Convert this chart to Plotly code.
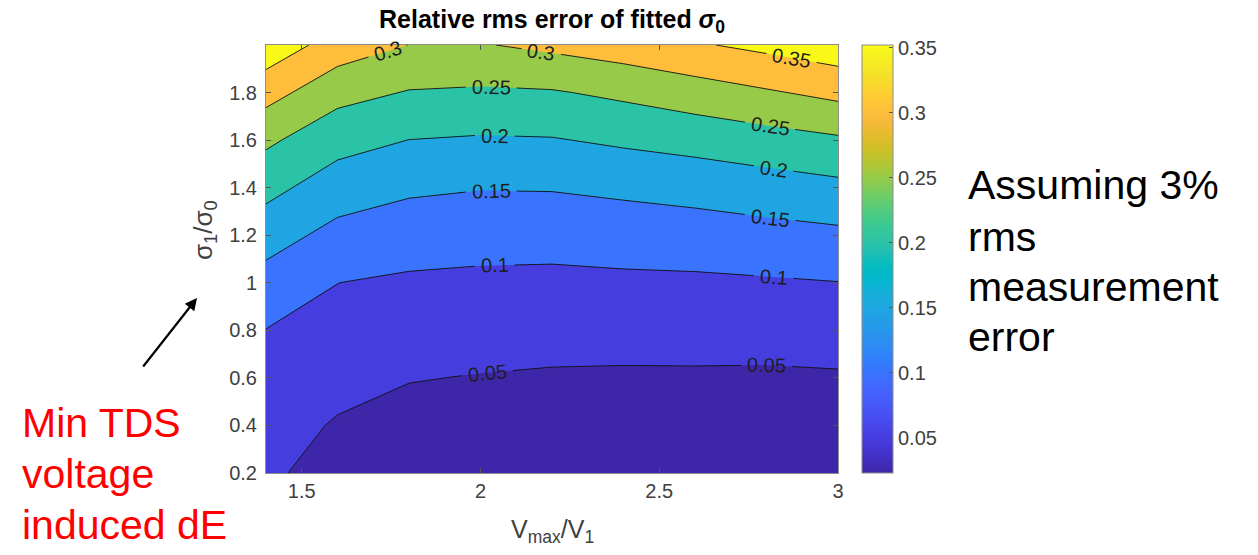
import math
import plotly.graph_objects as go

# ---- data -----------------------------------------------------------------
# Vmax/V1 sample points (columns) and sigma1/sigma0 sample points (rows)
v_ratio = [1.4, 1.6, 1.8, 2.0, 2.2, 2.4, 2.6, 2.8, 3.0]
sigma_ratio = [0.2, 0.4, 0.6, 0.8, 1.0, 1.2, 1.4, 1.6, 1.8, 2.0]

# relative rms error of the fitted sigma0, one list per sigma1/sigma0 value
err_s0_2 = [0.054, 0.041, 0.031, 0.027, 0.025, 0.024, 0.023, 0.023, 0.024]
err_s0_4 = [0.069, 0.046, 0.034, 0.034, 0.032, 0.031, 0.030, 0.030, 0.031]
err_s0_6 = [0.084, 0.064, 0.052, 0.048, 0.045, 0.044, 0.044, 0.043, 0.045]
err_s0_8 = [0.099, 0.082, 0.073, 0.069, 0.067, 0.067, 0.068, 0.069, 0.072]
err_s1_0 = [0.131, 0.1002, 0.093, 0.090, 0.089, 0.091, 0.092, 0.095, 0.099]
err_s1_2 = [0.171, 0.135, 0.122, 0.118, 0.117, 0.122, 0.126, 0.133, 0.140]
err_s1_4 = [0.215, 0.175, 0.158, 0.152, 0.153, 0.160, 0.168, 0.178, 0.188]
err_s1_6 = [0.259, 0.218, 0.1995, 0.195, 0.197, 0.208, 0.218, 0.230, 0.243]
err_s1_8 = [0.319, 0.266, 0.247, 0.243, 0.246, 0.260, 0.277, 0.295, 0.313]
err_s2_0 = [0.383, 0.328, 0.2995, 0.297, 0.311, 0.326, 0.345, 0.362, 0.380]

rel_err = [err_s0_2, err_s0_4, err_s0_6, err_s0_8, err_s1_0,
           err_s1_2, err_s1_4, err_s1_6, err_s1_8, err_s2_0]

# contour levels and colour limits
level_start, level_end, level_step = 0.05, 0.35, 0.05
clim = (0.023, 0.352)

# where along Vmax/V1 each contour level carries its inline label
label_x = {
    0.05: [2.02, 2.80],
    0.1: [2.04, 2.82],
    0.15: [2.03, 2.81],
    0.2: [2.04, 2.82],
    0.25: [2.03, 2.81],
    0.3: [1.74, 2.17],
    0.35: [2.87],
}

x_ticks = [1.5, 2, 2.5, 3]
y_ticks = [0.2, 0.4, 0.6, 0.8, 1.0, 1.2, 1.4, 1.6, 1.8]
cbar_ticks = [0.05, 0.1, 0.15, 0.2, 0.25, 0.3, 0.35]

# ---- parula colormap ----------------------------------------------------------
PARULA = [
    (0.2422, 0.1504, 0.6603), (0.2504, 0.1650, 0.7076), (0.2578, 0.1818, 0.7511),
    (0.2647, 0.1978, 0.7952), (0.2706, 0.2147, 0.8364), (0.2751, 0.2342, 0.8710),
    (0.2783, 0.2559, 0.8991), (0.2803, 0.2782, 0.9221), (0.2813, 0.3006, 0.9414),
    (0.2810, 0.3228, 0.9579), (0.2795, 0.3447, 0.9717), (0.2760, 0.3667, 0.9829),
    (0.2699, 0.3892, 0.9906), (0.2602, 0.4123, 0.9952), (0.2440, 0.4358, 0.9988),
    (0.2206, 0.4603, 0.9973), (0.1963, 0.4847, 0.9892), (0.1834, 0.5074, 0.9798),
    (0.1786, 0.5289, 0.9682), (0.1764, 0.5499, 0.9520), (0.1687, 0.5703, 0.9359),
    (0.1540, 0.5902, 0.9218), (0.1460, 0.6091, 0.9079), (0.1380, 0.6276, 0.8973),
    (0.1248, 0.6459, 0.8883), (0.1113, 0.6635, 0.8763), (0.0952, 0.6798, 0.8598),
    (0.0689, 0.6948, 0.8394), (0.0297, 0.7082, 0.8163), (0.0036, 0.7203, 0.7917),
    (0.0067, 0.7312, 0.7660), (0.0433, 0.7411, 0.7394), (0.0964, 0.7500, 0.7120),
    (0.1408, 0.7584, 0.6842), (0.1717, 0.7670, 0.6554), (0.1938, 0.7758, 0.6251),
    (0.2161, 0.7843, 0.5923), (0.2470, 0.7918, 0.5567), (0.2906, 0.7973, 0.5188),
    (0.3406, 0.8008, 0.4789), (0.3909, 0.8029, 0.4354), (0.4456, 0.8024, 0.3909),
    (0.5044, 0.7993, 0.3480), (0.5616, 0.7942, 0.3045), (0.6174, 0.7876, 0.2612),
    (0.6720, 0.7793, 0.2227), (0.7242, 0.7698, 0.1910), (0.7738, 0.7598, 0.1646),
    (0.8203, 0.7498, 0.1535), (0.8634, 0.7406, 0.1596), (0.9035, 0.7330, 0.1774),
    (0.9393, 0.7288, 0.2100), (0.9728, 0.7298, 0.2394), (0.9956, 0.7434, 0.2371),
    (0.9970, 0.7659, 0.2199), (0.9952, 0.7893, 0.2028), (0.9892, 0.8136, 0.1885),
    (0.9786, 0.8386, 0.1766), (0.9676, 0.8639, 0.1643), (0.9610, 0.8890, 0.1537),
    (0.9597, 0.9135, 0.1423), (0.9628, 0.9373, 0.1265), (0.9691, 0.9606, 0.1064),
    (0.9769, 0.9839, 0.0805),
]


def rgb(c):
    return "rgb(%d,%d,%d)" % tuple(round(255 * v) for v in c)


def parula_at(t):
    t = min(max(t, 0.0), 1.0) * (len(PARULA) - 1)
    i = min(int(t), len(PARULA) - 2)
    f = t - i
    a, b = PARULA[i], PARULA[i + 1]
    return tuple(a[k] + f * (b[k] - a[k]) for k in range(3))


parula_scale = [[i / (len(PARULA) - 1), rgb(c)] for i, c in enumerate(PARULA)]

n_levels = int(round((level_end - level_start) / level_step)) + 1
levels = [round(level_start + k * level_step, 4) for k in range(n_levels)]

# each filled band takes the colour of its lower contour level
band_colors = [rgb(parula_at(0.0))]
for lev in levels:
    band_colors.append(rgb(parula_at((lev - clim[0]) / (clim[1] - clim[0]))))
n_bands = len(band_colors)
band_scale = []
for k, col in enumerate(band_colors):
    lo = max(0.0, (2 * k - 1) / (2 * (n_bands - 1)))
    hi = min(1.0, (2 * k + 1) / (2 * (n_bands - 1)))
    band_scale += [[lo, col], [hi, col]]

# ---- layout geometry (pixels) -------------------------------------------------
W, H = 1258, 555
PL, PR, PT, PB = 266, 838, 45, 473
FONT = "Liberation Sans, Arial, Helvetica, sans-serif"
AX_GREY = "#404040"
LABEL_SIZE = 20

X0, X1 = v_ratio[0], v_ratio[-1]
Y0, Y1 = sigma_ratio[0], sigma_ratio[-1]
SX = (PR - PL) / (X1 - X0)
SY = (PB - PT) / (Y1 - Y0)


def px(xp):
    return (xp - PL) / (PR - PL)


def py(yp):
    return (PB - yp) / (PB - PT)


# ---- iso-lines by marching squares (linear interpolation on cell edges) -------
def iso_paths(xs, ys, Z, level):
    def crossing(key):
        kind, i, j = key
        if kind == "h":
            za, zb = Z[j][i], Z[j][i + 1]
            t = (level - za) / (zb - za)
            return (xs[i] + t * (xs[i + 1] - xs[i]), ys[j])
        za, zb = Z[j][i], Z[j + 1][i]
        t = (level - za) / (zb - za)
        return (xs[i], ys[j] + t * (ys[j + 1] - ys[j]))

    def cut(za, zb):
        return (za - level) * (zb - level) < 0

    adj = {}

    def link(a, b):
        adj.setdefault(a, []).append(b)
        adj.setdefault(b, []).append(a)

    for j in range(len(ys) - 1):
        for i in range(len(xs) - 1):
            z00, z10 = Z[j][i], Z[j][i + 1]
            z01, z11 = Z[j + 1][i], Z[j + 1][i + 1]
            edges = []
            if cut(z00, z10):
                edges.append(("h", i, j))
            if cut(z10, z11):
                edges.append(("v", i + 1, j))
            if cut(z01, z11):
                edges.append(("h", i, j + 1))
            if cut(z00, z01):
                edges.append(("v", i, j))
            if len(edges) == 2:
                link(*edges)
            elif len(edges) == 4:
                centre = (z00 + z10 + z01 + z11) / 4
                if (centre - level) * (z00 - level) > 0:
                    link(edges[0], edges[1])
                    link(edges[2], edges[3])
                else:
                    link(edges[0], edges[3])
                    link(edges[1], edges[2])

    seen, paths = set(), []
    order = [k for k in adj if len(adj[k]) == 1] + [k for k in adj if len(adj[k]) != 1]
    for start in order:
        if start in seen:
            continue
        chain, prev, cur = [start], None, start
        seen.add(start)
        while True:
            nxt = [n for n in adj[cur] if n != prev and n not in seen]
            if not nxt:
                if start in adj[cur] and len(chain) > 2:
                    chain.append(start)
                break
            prev, cur = cur, nxt[0]
            chain.append(cur)
            seen.add(cur)
        paths.append([crossing(k) for k in chain])
    return paths


def to_px(p):
    return ((p[0] - X0) * SX, -(p[1] - Y0) * SY)


def point_at(path, cum, s):
    for k in range(len(path) - 1):
        if cum[k + 1] >= s or k == len(path) - 2:
            seg = cum[k + 1] - cum[k]
            t = 0.0 if seg == 0 else (s - cum[k]) / seg
            t = min(max(t, 0.0), 1.0)
            a, b = path[k], path[k + 1]
            return (a[0] + t * (b[0] - a[0]), a[1] + t * (b[1] - a[1]))
    return path[-1]


def sub_path(path, cum, sa, sb):
    pts = [point_at(path, cum, sa)]
    pts += [path[k] for k in range(len(path)) if sa < cum[k] < sb]
    pts.append(point_at(path, cum, sb))
    return pts


line_x, line_y, label_annots = [], [], []
for lev in levels:
    text = "%g" % lev
    n_digits = sum(ch.isdigit() for ch in text)
    half_gap = LABEL_SIZE * (0.556 * n_digits + 0.278) / 2 + 6
    for path in iso_paths(v_ratio, sigma_ratio, rel_err, lev):
        P = [to_px(p) for p in path]
        cum = [0.0]
        for a, b in zip(P[:-1], P[1:]):
            cum.append(cum[-1] + math.hypot(b[0] - a[0], b[1] - a[1]))
        centres = []
        for lx in label_x.get(lev, []):
            for k in range(len(path) - 1):
                xa, xb = path[k][0], path[k + 1][0]
                if xa != xb and (xa - lx) * (xb - lx) <= 0:
                    t = (lx - xa) / (xb - xa)
                    centres.append(cum[k] + t * (cum[k + 1] - cum[k]))
                    break
        centres.sort()
        s_prev = 0.0
        for s0 in centres:
            piece = sub_path(path, cum, s_prev, max(s_prev, s0 - half_gap))
            line_x += [p[0] for p in piece] + [None]
            line_y += [p[1] for p in piece] + [None]
            s_prev = s0 + half_gap
            pa = to_px(point_at(path, cum, s0 - half_gap))
            pb = to_px(point_at(path, cum, s0 + half_gap))
            ang = math.degrees(math.atan2(pb[1] - pa[1], pb[0] - pa[0]))
            if ang > 90:
                ang -= 180
            elif ang < -90:
                ang += 180
            cx, cy = point_at(path, cum, s0)
            label_annots.append(dict(
                x=cx, y=cy, xref="x", yref="y", text=text, textangle=ang,
                showarrow=False, xanchor="center", yanchor="middle",
                font=dict(family=FONT, size=LABEL_SIZE, color="#1e1e1e")))
        if s_prev < cum[-1]:
            piece = sub_path(path, cum, s_prev, cum[-1])
            line_x += [p[0] for p in piece] + [None]
            line_y += [p[1] for p in piece] + [None]

fig = go.Figure()

# filled bands
fig.add_trace(go.Contour(
    x=v_ratio, y=sigma_ratio, z=rel_err,
    contours=dict(start=level_start, end=level_end, size=level_step,
                  coloring="fill", showlines=False, showlabels=False),
    colorscale=band_scale, showscale=False,
    line=dict(width=0, smoothing=0),
    hoverinfo="x+y+z",
))

# contour lines, broken where labels sit
fig.add_trace(go.Scatter(
    x=line_x, y=line_y, mode="lines", connectgaps=False,
    line=dict(color="#111111", width=0.9), hoverinfo="skip", showlegend=False,
))

# continuous colorbar
fig.add_trace(go.Scatter(
    x=[v_ratio[0]], y=[sigma_ratio[0]], mode="markers",
    marker=dict(size=1, opacity=0, color=[clim[0]], cmin=clim[0], cmax=clim[1],
                colorscale=parula_scale, showscale=True,
                colorbar=dict(x=px(862), xanchor="left", xpad=0, ypad=0,
                              y=0.5, yanchor="middle", len=1.0, lenmode="fraction",
                              thickness=31, outlinecolor="#8c8c8c", outlinewidth=1,
                              tickvals=cbar_ticks, ticks="inside", ticklen=4,
                              tickcolor="#555555",
                              tickfont=dict(family=FONT, size=20, color=AX_GREY))),
    hoverinfo="skip", showlegend=False,
))

axis_common = dict(showline=True, linecolor="#8c8c8c", linewidth=1, mirror="ticks",
                   ticks="inside", ticklen=5, tickcolor="#555555", showgrid=False,
                   zeroline=False, tickfont=dict(family=FONT, size=20, color=AX_GREY))

fig.update_xaxes(range=[X0, X1], tickvals=x_ticks, **axis_common)
fig.update_yaxes(range=[Y0, Y1], tickvals=y_ticks, ticklabelstandoff=4, **axis_common)

annotations = list(label_annots) + [
    # axis titles
    dict(x=0.5, y=py(531), xref="paper", yref="paper", showarrow=False,
         xanchor="center", yanchor="middle",
         text="V<sub>max</sub>/V<sub>1</sub>",
         font=dict(family=FONT, size=25, color=AX_GREY)),
    dict(x=px(205), y=py(230), xref="paper", yref="paper", showarrow=False,
         xanchor="center", yanchor="middle",
         text="σ<sub>1</sub>/σ<sub>0</sub>", textangle=-90,
         font=dict(family=FONT, size=26, color=AX_GREY)),
    # arrow pointing at the vertical axis
    dict(x=px(197), y=py(298), xref="paper", yref="paper", text="",
         showarrow=True, ax=-55, ay=70, arrowhead=2, arrowsize=1.1,
         arrowwidth=2.2, arrowcolor="black", standoff=0),
]

side_note = ["Assuming 3%", "rms", "measurement", "error"]
side_note_y = [185, 237, 287, 337]
for line, yp in zip(side_note, side_note_y):
    annotations.append(dict(x=px(966), y=py(yp), xref="paper", yref="paper",
                            xanchor="left", yanchor="middle", showarrow=False,
                            text=line, font=dict(family=FONT, size=41, color="black")))

red_note = ["Min TDS", "voltage", "induced dE"]
red_note_y = [423, 474, 525]
for line, yp in zip(red_note, red_note_y):
    annotations.append(dict(x=px(20), y=py(yp), xref="paper", yref="paper",
                            xanchor="left", yanchor="middle", showarrow=False,
                            text=line, font=dict(family=FONT, size=41, color="#ff0000")))

fig.update_layout(
    width=W, height=H,
    margin=dict(l=PL, r=W - PR, t=PT, b=H - PB, pad=0),
    paper_bgcolor="white", plot_bgcolor="white",
    showlegend=False,
    title=dict(text="<b>Relative rms error of fitted <i>σ</i><sub>0</sub></b>",
               x=px((PL + PR) / 2), xref="paper", xanchor="center",
               y=1 - 19 / H, yref="container", yanchor="middle",
               font=dict(family=FONT, size=25, color="black")),
    annotations=annotations,
)

fig.write_html("out.html")
